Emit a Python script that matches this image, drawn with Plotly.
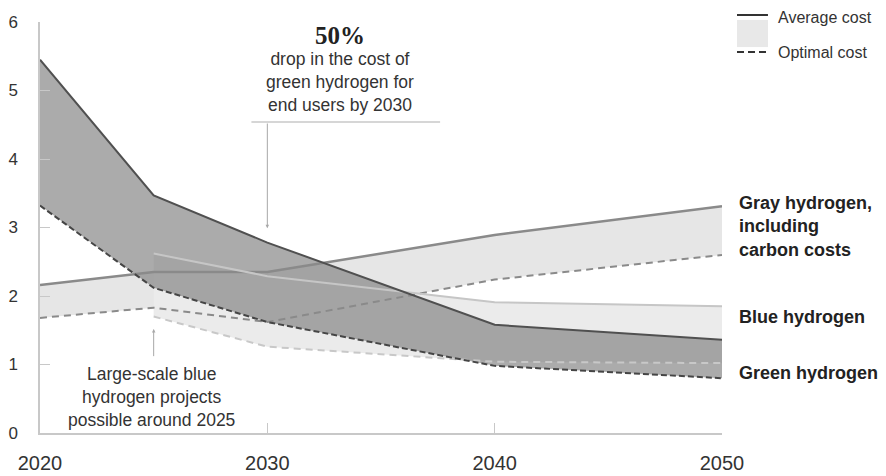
import plotly.graph_objects as go

# Cost of hydrogen by production route, $ per kg
years = [2020, 2025, 2030, 2040, 2050]
blue_years = [2025, 2030, 2040, 2050]

green_avg = [5.45, 3.47, 2.78, 1.58, 1.36]
green_opt = [3.32, 2.12, 1.62, 0.98, 0.80]
gray_avg = [2.16, 2.35, 2.35, 2.89, 3.31]
gray_opt = [1.68, 1.83, 1.62, 2.24, 2.60]
blue_avg = [2.62, 2.29, 1.91, 1.85]
blue_opt = [1.70, 1.26, 1.04, 1.02]

y_ticks = [0, 1, 2, 3, 4, 5, 6]
x_ticks = [2020, 2030, 2040, 2050]

FONT = "Liberation Sans"
TXT = "#333333"
Y_MAX = 6

fig = go.Figure()


def band(x, upper, lower, color):
    fig.add_trace(go.Scatter(
        x=list(x) + list(x)[::-1],
        y=list(upper) + list(lower)[::-1],
        fill="toself", fillcolor=color, mode="none",
        hoverinfo="skip", showlegend=False,
    ))


def line(x, y, color, width, dash="solid"):
    fig.add_trace(go.Scatter(
        x=x, y=y, mode="lines",
        line=dict(color=color, width=width, dash=dash),
        hoverinfo="skip", showlegend=False,
    ))


# Bands between average and optimal cost
band(years, gray_avg, gray_opt, "#e6e6e6")
band(blue_years, blue_avg, blue_opt, "#ebebeb")
band(years, green_avg, green_opt, "rgba(128,128,128,0.66)")

# Outline lines
line(years, gray_avg, "#8a8a8a", 2.5)
line(years, gray_opt, "#8a8a8a", 2, "7px,5px")
line(blue_years, blue_avg, "#c6c6c6", 2)
line(blue_years, blue_opt, "#c8c8c8", 2, "7px,5px")
line(years, green_avg, "#505050", 2)
line(years, green_opt, "#454545", 2, "6px,3px")


def side_label(text, value):
    # series name placed to the right of the plot, at the given cost level
    return dict(xref="paper", yref="paper", x=1.022, y=value / Y_MAX,
                xanchor="left", yanchor="middle", align="left",
                text=text, showarrow=False,
                font=dict(family=FONT, size=18, color="#222222"))


annotations = [
    # headline callout
    dict(x=2033.2, y=5.81, text="<b>50%</b>", showarrow=False, yanchor="middle",
         font=dict(family="Liberation Serif", size=25, color="#222222")),
    dict(x=2033.2, y=5.12, yanchor="middle",
         text="drop in the cost of<br>green hydrogen for<br>end users by 2030",
         showarrow=False, font=dict(family=FONT, size=17.5, color=TXT)),
    dict(x=2030, y=2.99, ax=2030, ay=4.54, axref="x", ayref="y",
         text="", showarrow=True, arrowhead=2, arrowsize=0.7,
         arrowwidth=1, arrowcolor="#a8a8a8"),
    # blue hydrogen callout
    dict(x=2024.9, y=0.52, yanchor="middle",
         text="Large-scale blue<br>hydrogen projects<br>possible around 2025",
         showarrow=False, font=dict(family=FONT, size=17.5, color=TXT)),
    dict(x=2025, y=1.52, ax=2025, ay=1.1, axref="x", ayref="y",
         text="", showarrow=True, arrowhead=2, arrowsize=0.7,
         arrowwidth=1, arrowcolor="#a8a8a8"),
    # series labels
    side_label("<b>Gray hydrogen,<br>including<br>carbon costs</b>", 3.02),
    side_label("<b>Blue hydrogen</b>", 1.69),
    side_label("<b>Green hydrogen</b>", 0.876),
    # key
    dict(xref="paper", yref="paper", x=1.079, y=1.012, xanchor="left",
         yanchor="middle", text="Average cost", showarrow=False,
         font=dict(family=FONT, size=16, color=TXT)),
    dict(xref="paper", yref="paper", x=1.079, y=0.927, xanchor="left",
         yanchor="middle", text="Optimal cost", showarrow=False,
         font=dict(family=FONT, size=16, color=TXT)),
]

shapes = [
    # rule under the callout text
    dict(type="line", xref="x", yref="y", x0=2029.3, x1=2037.6,
         y0=4.54, y1=4.54, line=dict(color="#c8c8c8", width=1.5)),
    # key swatches
    dict(type="rect", xref="paper", yref="paper", x0=1.022, x1=1.0674,
         y0=0.939, y1=1.005, fillcolor="#e8e8e8", line=dict(width=0)),
    dict(type="line", xref="paper", yref="paper", x0=1.022, x1=1.0674,
         y0=1.017, y1=1.017, line=dict(color="#333333", width=2)),
    dict(type="line", xref="paper", yref="paper", x0=1.022, x1=1.0674,
         y0=0.927, y1=0.927, line=dict(color="#333333", width=2, dash="7px,4px")),
]

fig.update_layout(
    width=886, height=476,
    margin=dict(l=40, r=164, t=22, b=43, autoexpand=False),
    paper_bgcolor="white", plot_bgcolor="white",
    showlegend=False,
    annotations=annotations,
    shapes=shapes,
    xaxis=dict(
        range=[2020, 2050], tickvals=x_ticks, ticktext=[str(v) for v in x_ticks],
        showgrid=False, zeroline=False, showline=True, linecolor="#c8c8c8",
        linewidth=1.5, ticks="inside", ticklen=10, tickcolor="#c8c8c8",
        tickfont=dict(family=FONT, size=20, color=TXT), ticklabelstandoff=11,
        automargin=False,
    ),
    yaxis=dict(
        range=[0, Y_MAX], tickvals=y_ticks,
        showgrid=False, zeroline=False, showline=True, linecolor="#c8c8c8",
        linewidth=1.5, ticks="inside", ticklen=10, tickcolor="#c8c8c8",
        tickfont=dict(family=FONT, size=17, color=TXT), ticklabelstandoff=17,
        automargin=False,
    ),
)

fig.write_html("out.html")
